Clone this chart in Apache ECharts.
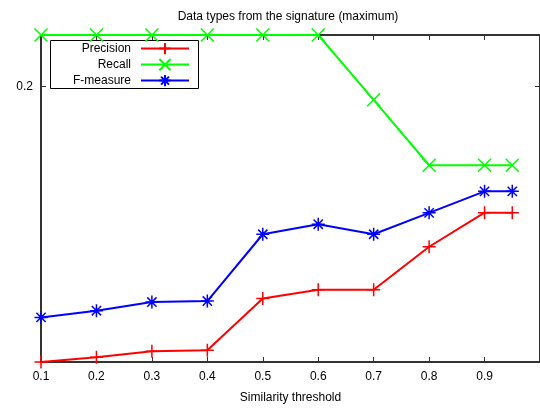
<!DOCTYPE html>
<html>
<head>
  <meta charset="utf-8">
  <title>Data types from the signature (maximum)</title>
  <script src="https://cdn.jsdelivr.net/npm/echarts@6/dist/echarts.min.js"></script>
</head>
<body style="margin:0">
<div id="main" style="width: 540px; height: 410px"></div>
<script type="text/javascript">
// similarity thresholds
var thresholds = [0.1, 0.2, 0.3, 0.4, 0.5, 0.6, 0.7, 0.8, 0.9, 0.95];
var precision = [0.035, 0.0378, 0.0414, 0.042, 0.073, 0.0783, 0.0783, 0.104, 0.1244, 0.1244];
var recall = [0.2308, 0.2308, 0.2308, 0.2308, 0.2308, 0.2308, 0.192, 0.1528, 0.1528, 0.1528];
var fmeasure = [0.0617, 0.0657, 0.0709, 0.0715, 0.1115, 0.1175, 0.1115, 0.1243, 0.1372, 0.1372];
var yTicks = [0.2];

var font = 'Liberation Sans, Arial, sans-serif';
var plusPath = 'path://M7 0V14M0 7H14';
var crossPath = 'path://M0 0L14 14M14 0L0 14';
var starPath = 'path://M7 0V14M0 7H14M2 2L12 12M12 2L2 12';

function pairs(ys) {
  var out = [];
  for (var i = 0; i < thresholds.length; i++) out.push([thresholds[i], ys[i]]);
  return out;
}

function mkSeries(name, ys, color, sym) {
  return {
    name: name,
    type: 'line',
    data: pairs(ys),
    symbol: sym,
    symbolSize: 13,
    showAllSymbol: true,
    clip: false,
    lineStyle: { color: color, width: 2 },
    itemStyle: { color: color, borderColor: color, borderWidth: 1.5 },
    emphasis: { disabled: true }
  };
}

function mkLegend(name, top) {
  return {
    data: [name],
    right: 350,
    top: top,
    orient: 'vertical',
    align: 'right',
    padding: 0,
    itemWidth: 48,
    itemHeight: 14,
    textStyle: { fontFamily: font, fontSize: 12, color: '#000', padding: [0, 5, 0, 0] }
  };
}

var axisLine = { lineStyle: { color: '#333', width: 2 } };

var myChart = echarts.init(document.getElementById('main'));
myChart.setOption({
  animation: false,
  title: {
    text: 'Data types from the signature (maximum)',
    left: 283,
    textAlign: 'center',
    top: 6,
    textStyle: { fontFamily: font, fontSize: 12, fontWeight: 'normal', color: '#000' }
  },
  legend: [
    mkLegend('Precision', 42),
    mkLegend('Recall', 58),
    mkLegend('F-measure', 74)
  ],
  grid: { left: 41, right: -2, top: 35, bottom: 48 },
  xAxis: [{
    type: 'value',
    min: 0.1,
    max: 1.0,
    interval: 0.1,
    name: 'Similarity threshold',
    nameLocation: 'middle',
    nameGap: 30,
    nameTextStyle: { fontFamily: font, fontSize: 12, color: '#000' },
    axisLine: axisLine,
    axisTick: { inside: true, length: 5, lineStyle: { color: '#333' } },
    axisLabel: {
      fontFamily: font, fontSize: 12, color: '#000', margin: 9,
      showMaxLabel: false,
      formatter: function (v) { return v.toFixed(1); }
    },
    splitLine: { show: false }
  }, {
    type: 'value',
    position: 'top',
    min: 0.1,
    max: 1.0,
    interval: 0.1,
    axisLine: axisLine,
    axisTick: { inside: true, length: 5, lineStyle: { color: '#333' } },
    axisLabel: { show: false },
    splitLine: { show: false }
  }],
  yAxis: [{
    type: 'value',
    min: 0.035,
    max: 0.2308,
    axisLine: { show: true, lineStyle: { color: '#333', width: 2 } },
    axisTick: { show: true, inside: true, length: 5, customValues: yTicks, lineStyle: { color: '#333' } },
    axisLabel: {
      fontFamily: font, fontSize: 12, color: '#000', margin: 8,
      customValues: yTicks,
      formatter: function (v) { return v.toFixed(1); }
    },
    splitLine: { show: false }
  }, {
    type: 'value',
    position: 'right',
    min: 0.035,
    max: 0.2308,
    axisLine: { show: true, lineStyle: { color: '#333', width: 2 } },
    axisTick: { show: true, inside: true, length: 5, customValues: yTicks, lineStyle: { color: '#333' } },
    axisLabel: { show: false },
    splitLine: { show: false }
  }],
  graphic: [{
    type: 'rect',
    z: 3,
    shape: { x: 50.5, y: 40.5, width: 148, height: 48 },
    style: { fill: 'none', stroke: '#000', lineWidth: 1 }
  }],
  series: [
    mkSeries('Precision', precision, '#ff0000', plusPath),
    mkSeries('Recall', recall, '#00ff00', crossPath),
    mkSeries('F-measure', fmeasure, '#0000ff', starPath)
  ]
});
</script>
</body>
</html>
